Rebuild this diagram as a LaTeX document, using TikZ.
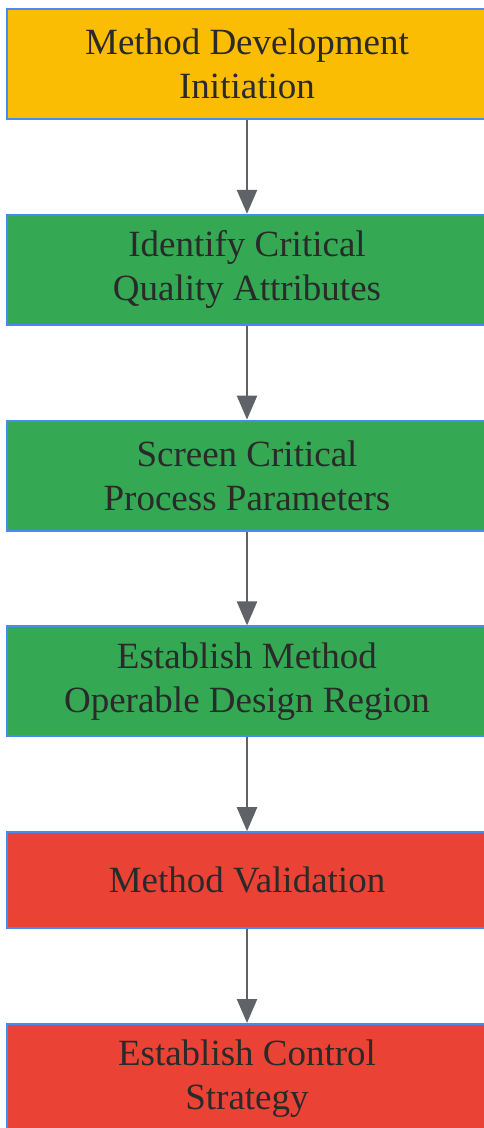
\documentclass[tikz,border=0pt]{standalone}
\usepackage{fontspec}
\setmainfont{Liberation Serif}
\usetikzlibrary{positioning,arrows.meta}
\definecolor{stepyellow}{HTML}{FBBC04}
\definecolor{stepgreen}{HTML}{34A853}
\definecolor{stepred}{HTML}{EA4335}
\definecolor{stepborder}{HTML}{4A8AF0}
\definecolor{arrowgray}{HTML}{5F6368}
\definecolor{textgray}{HTML}{2A2A2A}
\tikzset{
  stepbox/.style={draw=stepborder, line width=2pt, minimum width=480pt, minimum height=110pt,
    align=center, text=textgray, font=\fontsize{37}{44}\selectfont},
  flow/.style={draw=arrowgray, line width=2.5pt, -{Triangle[width=20pt,length=24pt]}}
}
\begin{document}
\begin{tikzpicture}[x=1pt,y=1pt, node distance=93.8pt]
	\useasboundingbox (0,0) rectangle (483,-1128);
	\node[stepbox, fill=stepyellow] (init) at (247,-64) {Method Development\\Initiation};
	\node[stepbox, fill=stepgreen, below=of init] (cqa) {Identify Critical\\Quality Attributes};
	\node[stepbox, fill=stepgreen, below=of cqa] (cpp) {Screen Critical\\Process Parameters};
	\node[stepbox, fill=stepgreen, below=of cpp] (modr) {Establish Method\\Operable Design Region};
	\node[stepbox, fill=stepred, minimum height=96pt, below=of modr] (valid) {Method Validation};
	\node[stepbox, fill=stepred, below=of valid] (ctrl) {Establish Control\\Strategy};
	\foreach \a/\b in {init/cqa, cqa/cpp, cpp/modr, modr/valid, valid/ctrl}{
		\draw[flow] (\a) -- (\b);}
\end{tikzpicture}
\end{document}
